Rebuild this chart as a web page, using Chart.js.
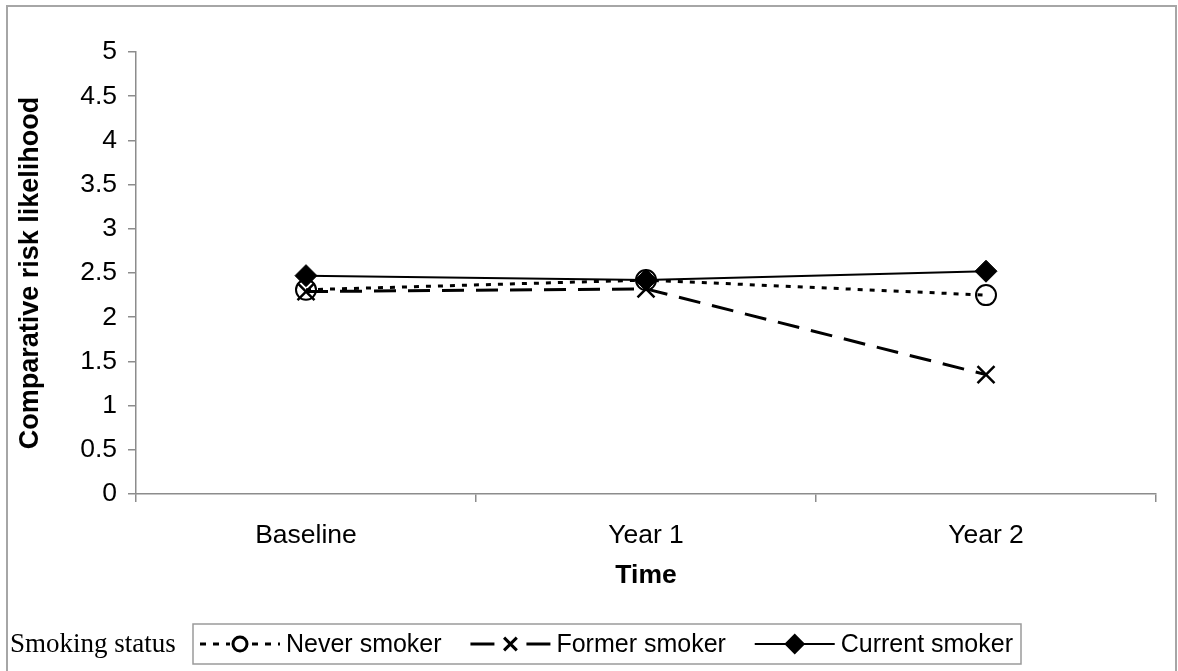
<!DOCTYPE html>
<html>
<head>
<meta charset="utf-8">
<script src="https://cdn.jsdelivr.net/npm/chart.js@4/dist/chart.umd.min.js"></script>
<style>
  html, body { margin: 0; padding: 0; background: #fff; }
  #wrap { width: 1178px; height: 671px; position: relative; }
</style>
</head>
<body>
<div id="wrap"><canvas id="c" width="1178" height="671"></canvas></div>
<script>
// Time points and comparative risk likelihood by smoking status
const categories = ['Baseline', 'Year 1', 'Year 2'];
const neverSmoker = [2.31, 2.42, 2.25];
const formerSmoker = [2.29, 2.32, 1.35];
const currentSmoker = [2.47, 2.42, 2.52];
const seriesNames = ['Never smoker', 'Former smoker', 'Current smoker'];
const legendTitle = 'Smoking status';
const yTitle = 'Comparative risk likelihood';
const xTitle = 'Time';

const SANS = '"Liberation Sans", Arial, sans-serif';
const SERIF = '"Liberation Serif", "Times New Roman", serif';
const AXIS_GREY = '#8c8c8c';
const FONT_PX = 26.5;

// Outer frame and the legend row under the plot
const framePlugin = {
  id: 'frameAndLegend',
  afterDraw(chart) {
    const ctx = chart.ctx;
    ctx.save();
    // frame round the figure
    ctx.strokeStyle = '#a6a6a6';
    ctx.lineWidth = 2;
    ctx.strokeRect(7, 6, 1169, 720);

    // legend caption
    ctx.fillStyle = '#000';
    ctx.font = '27px ' + SERIF;
    ctx.textBaseline = 'middle';
    ctx.textAlign = 'left';
    ctx.fillText(legendTitle, 10, 645);

    // legend box, entries spread across it
    const boxL = 193, boxR = 1021, boxT = 624, boxH = 40;
    const cy = boxT + boxH / 2;
    const sampleW = 80, textGap = 6, padL = 7, padR = 8;
    ctx.font = '25px ' + SANS;
    const widths = chart.data.datasets.map(ds => ctx.measureText(ds.label).width);
    const used = padL + padR + widths.reduce((a, b) => a + b, 0) + 3 * (sampleW + textGap);
    const between = (boxR - boxL - used) / 2;

    ctx.strokeStyle = '#9a9a9a';
    ctx.lineWidth = 1.5;
    ctx.strokeRect(boxL, boxT, boxR - boxL, boxH);

    let x = boxL + padL;
    chart.data.datasets.forEach((ds, i) => {
      ctx.save();
      ctx.strokeStyle = '#000';
      ctx.lineWidth = ds.legendLineWidth;
      ctx.setLineDash(ds.legendDash || []);
      ctx.beginPath();
      ctx.moveTo(x, cy);
      ctx.lineTo(x + sampleW, cy);
      ctx.stroke();
      ctx.setLineDash([]);
      if (ds.pointStyle !== 'rectRot') {
        ctx.fillStyle = '#fff';
        ctx.fillRect(x + sampleW / 2 - 10, cy - 10, 20, 20);
      }
      ctx.fillStyle = ds.pointStyle === 'circle' ? '#fff' : '#000';
      ctx.strokeStyle = '#000';
      Chart.helpers.drawPoint(ctx, {
        pointStyle: ds.pointStyle,
        radius: ds.legendRadius,
        borderWidth: 2,
        rotation: 0
      }, x + sampleW / 2, cy);
      ctx.restore();
      ctx.fillStyle = '#000';
      ctx.font = '25px ' + SANS;
      ctx.textBaseline = 'middle';
      ctx.fillText(ds.label, x + sampleW + textGap, cy + 1);
      x += sampleW + textGap + widths[i] + between;
    });
    ctx.restore();
  }
};

new Chart(document.getElementById('c'), {
  type: 'line',
  data: {
    labels: categories,
    datasets: [
      {
        label: seriesNames[0],
        data: neverSmoker,
        borderColor: '#000',
        borderWidth: 3,
        borderDash: [5, 7],
        pointStyle: 'circle',
        pointRadius: 10,
        pointBorderWidth: 2,
        pointBackgroundColor: 'rgba(0,0,0,0)',
        pointBorderColor: '#000',
        legendLineWidth: 3,
        legendDash: [6, 7],
        legendRadius: 7,
        order: 2
      },
      {
        label: seriesNames[1],
        data: formerSmoker,
        borderColor: '#000',
        borderWidth: 3,
        borderDash: [22, 12],
        pointStyle: 'crossRot',
        pointRadius: 12,
        pointBorderWidth: 2.5,
        pointBackgroundColor: '#000',
        pointBorderColor: '#000',
        legendLineWidth: 3,
        legendDash: [24, 32],
        legendRadius: 9,
        order: 3
      },
      {
        label: seriesNames[2],
        data: currentSmoker,
        borderColor: '#000',
        borderWidth: 2,
        pointStyle: 'rectRot',
        pointRadius: 11,
        pointBorderWidth: 1,
        pointBackgroundColor: '#000',
        pointBorderColor: '#000',
        legendLineWidth: 2,
        legendRadius: 9,
        order: 1
      }
    ]
  },
  options: {
    responsive: false,
    animation: false,
    layout: { padding: { left: 0, right: 22, top: 52, bottom: 75 } },
    plugins: {
      legend: { display: false },
      tooltip: { enabled: false }
    },
    scales: {
      x: {
        type: 'category',
        offset: true,
        border: { color: AXIS_GREY, width: 1.5 },
        grid: {
          offset: true,
          drawOnChartArea: false,
          tickLength: 8,
          color: AXIS_GREY,
          lineWidth: 1.5
        },
        ticks: {
          color: '#000',
          font: { family: SANS, size: FONT_PX },
          padding: 18,
          maxRotation: 0
        },
        title: {
          display: true,
          text: xTitle,
          color: '#000',
          font: { family: SANS, size: FONT_PX, weight: 'bold' },
          padding: { top: 4, bottom: 4 }
        },
        afterFit(scale) { scale.height = 102; }
      },
      y: {
        min: 0,
        max: 5,
        border: { color: AXIS_GREY, width: 1.5 },
        grid: {
          drawOnChartArea: false,
          tickLength: 8,
          color: AXIS_GREY,
          lineWidth: 1.5
        },
        ticks: {
          stepSize: 0.5,
          color: '#000',
          font: { family: SANS, size: FONT_PX },
          padding: 11,
          callback: (v) => String(Number(v))
        },
        title: {
          display: true,
          text: yTitle,
          color: '#000',
          font: { family: SANS, size: 27, weight: 'bold' },
          padding: { top: 14, bottom: 0 }
        },
        afterFit(scale) { scale.width = 136; }
      }
    }
  },
  plugins: [framePlugin]
});
</script>
</body>
</html>
